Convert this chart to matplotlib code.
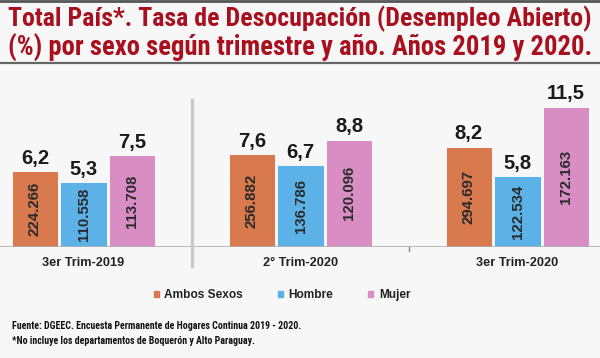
import matplotlib
matplotlib.use("Agg")
import matplotlib.pyplot as plt
from matplotlib import font_manager
import numpy as np

periods = ["3er Trim-2019", "2° Trim-2020", "3er Trim-2020"]
series = ["Ambos Sexos", "Hombre", "Mujer"]
rates = {
    "Ambos Sexos": [6.2, 7.6, 8.2],
    "Hombre": [5.3, 6.7, 5.8],
    "Mujer": [7.5, 8.8, 11.5],
}
people = {
    "Ambos Sexos": ["224.266", "256.882", "294.697"],
    "Hombre": ["110.558", "136.786", "122.534"],
    "Mujer": ["113.708", "120.096", "172.163"],
}
colors = {"Ambos Sexos": "#d8794e", "Hombre": "#5cb2e6", "Mujer": "#d98ec3"}

title = ["Total País*. Tasa de Desocupación (Desempleo Abierto)",
         "(%) por sexo según trimestre y año. Años 2019 y 2020."]
notes = ["Fuente: DGEEC. Encuesta Permanente de Hogares Continua 2019 - 2020.",
         "*No incluye los departamentos de Boquerón y Alto Paraguay."]

names = {f.name for f in font_manager.fontManager.ttflist}
narrow = next((n for n in ["Liberation Sans Narrow", "Roboto Condensed", "Archivo Narrow",
                           "PT Sans Narrow", "Barlow Semi Condensed", "Asap Condensed",
                           "Barlow Condensed"] if n in names), "DejaVu Sans")
plt.rcParams["font.family"] = ["Liberation Sans", "DejaVu Sans"]

bg = "#f7f7f7"
fig = plt.figure(figsize=(6, 3.58), dpi=100, facecolor=bg)
renderer = fig.canvas.get_renderer()


def fit_text(y, s, width_px, size, **kw):
    # shrink a line until it spans the wanted width
    t = fig.text(0.5, y, s, fontsize=size, **kw)
    w = t.get_window_extent(renderer).width
    t.set_fontsize(size * width_px / w)
    return t


# header rules and title
fig.add_artist(plt.Line2D([0, 1], [1 - 1 / 358, 1 - 1 / 358], color="#555555", lw=2))
fig.add_artist(plt.Line2D([0, 1], [1 - 63 / 358, 1 - 63 / 358], color="#666666", lw=1.6))
for k, line in enumerate(title):
    fit_text(1 - (19 + 29 * k) / 358, line, 583 if k == 0 else 582, 20,
             ha="center", va="center", color="#a8101f", fontweight="bold", family=narrow)

ax = fig.add_axes([0, 111 / 358, 1, 177 / 358])
ax.set_facecolor(bg)
ax.set_xlim(-0.385, 2.38)
ax.set_ylim(0, 14.5)
ax.axis("off")

x = np.arange(len(periods))
width, step = 0.215, 0.224
for i, s in enumerate(series):
    xs = x + (i - 1) * step
    ax.bar(xs, rates[s], width=width, color=colors[s], edgecolor="white", linewidth=0.6)
    for xi, v, p in zip(xs, rates[s], people[s]):
        ax.annotate(f"{v:.1f}".replace(".", ","), (xi, v), xytext=(0, 9.5),
                    textcoords="offset points", ha="center", va="center",
                    fontsize=14.5, fontweight="bold", color="#1a1a1a")
        ax.text(xi, v / 2, p, rotation=90, ha="center", va="center",
                fontsize=10.8, fontweight="bold", color="#2a2a2a")

ax.axhline(0, color="#b0b0b0", lw=1.2)
ax.plot([0.5, 0.5], [-1.56, 12.05], color="#c8c8c8", lw=2.4, clip_on=False)
ax.plot([1.5, 1.5], [-0.3, 0], color="#888888", lw=1, clip_on=False)
for xi, lab in zip(x, periods):
    ax.text(xi, -1.33, lab, ha="center", va="center", fontsize=9.2,
            fontweight="bold", color="#222222", clip_on=False)

handles = [plt.Rectangle((0, 0), 1, 1, color=colors[s]) for s in series]
fig.legend(handles, series, loc="center", bbox_to_anchor=(282 / 600, 1 - 295 / 358),
           ncol=3, frameon=False, handlelength=0.4, handleheight=0.4,
           handletextpad=0.5, columnspacing=2.9,
           prop={"size": 8.6, "weight": "bold"}, labelcolor="#222222")

for k, line in enumerate(notes):
    t = fig.text(12 / 600, 1 - (326 + 15 * k) / 358, line, ha="left", va="center",
                 fontsize=9, fontweight="bold", family=narrow, color="#111111")
    if k == 0:
        w = t.get_window_extent(renderer).width
        note_size = 9 * 290 / w
    t.set_fontsize(note_size)

fig.savefig("out.png", dpi=100, facecolor=bg)
